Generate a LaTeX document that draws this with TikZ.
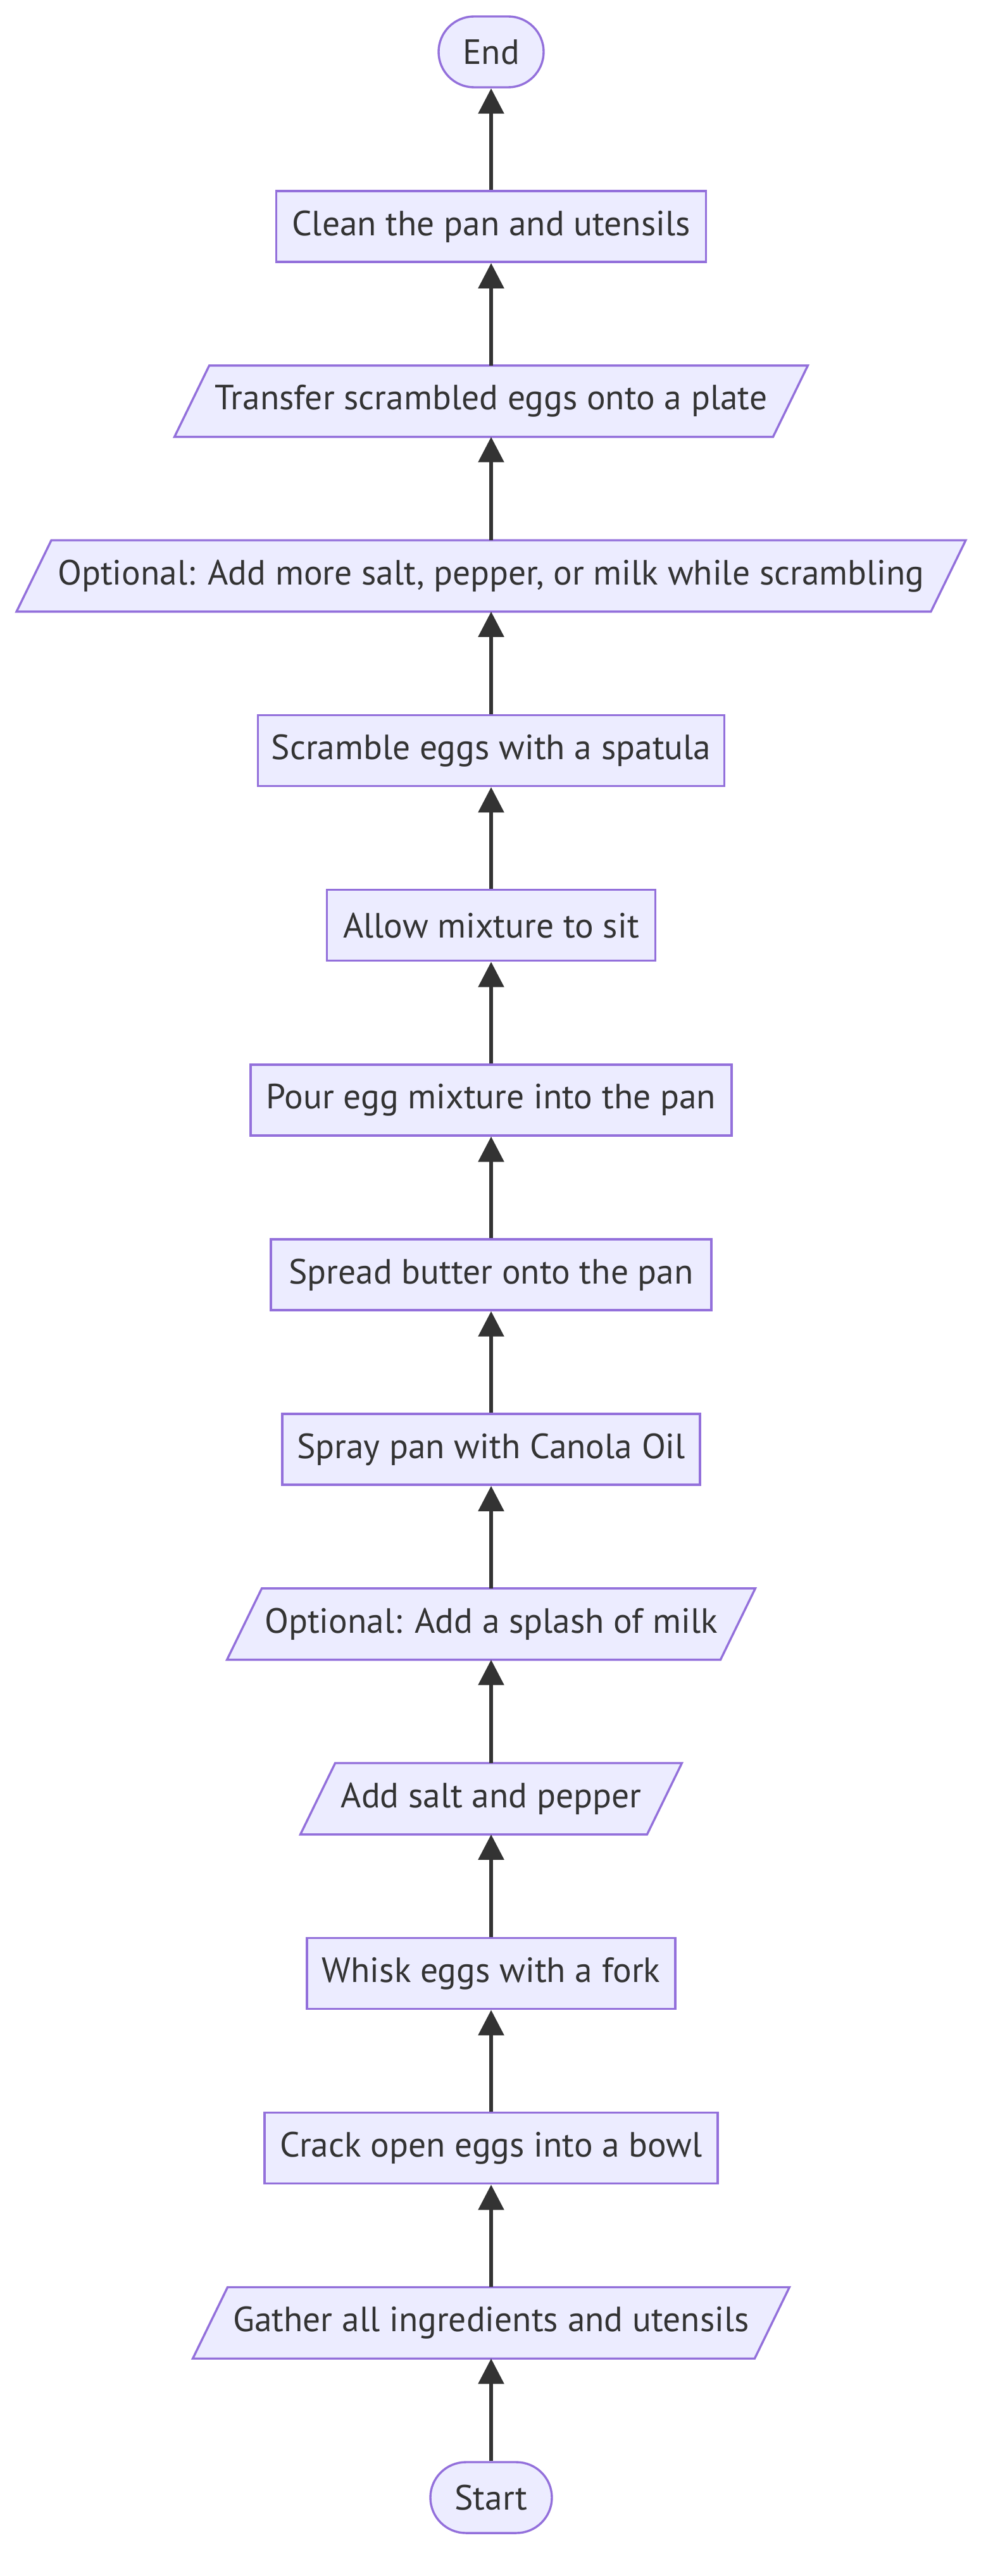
\documentclass[tikz,border=0pt]{standalone}
\usepackage{fontspec}
\setmainfont{PT Sans}
\usetikzlibrary{arrows.meta,backgrounds}
\definecolor{nodefill}{HTML}{ECECFF}
\definecolor{nodeline}{HTML}{9370DB}
\definecolor{edgecol}{HTML}{333333}
\tikzset{
 base/.style={font=\fontsize{27.7}{33}\selectfont, text=edgecol, minimum height=56pt, inner sep=0pt, align=center},
 stepbox/.style={base, draw=nodeline, fill=nodefill, line width=1.7pt, rectangle},
 terminal/.style={base, draw=nodeline, fill=nodefill, line width=1.7pt, rounded corners=28pt},
 parabox/.style={base},
 parashape/.style={draw=nodeline, fill=nodefill, line width=1.7pt, line join=miter},
 flow/.style={draw=edgecol, line width=2.8pt, -{Triangle[length=20pt,width=20pt]}},
}
\newcommand\paranode[4]{%
 \node[parabox, minimum width=#3] (#1) at (388pt,#2) {#4};
 \begin{scope}[on background layer]
 \draw[parashape] ([xshift=-13.75pt]#1.south west) -- ([xshift=-13.75pt]#1.south east) -- ([xshift=13.75pt]#1.north east) -- ([xshift=13.75pt]#1.north west) -- cycle;
 \end{scope}}
\begin{document}
\begin{tikzpicture}
\useasboundingbox (0,0) rectangle (784pt,-2036pt);
\node[terminal, minimum width=83pt] (end) at (388pt,-41pt) {End};
\node[stepbox, minimum width=339.5pt] (clean) at (388pt,-179.07pt) {Clean the pan and utensils};
\paranode{transfer}{-317.14pt}{472.5pt}{Transfer scrambled eggs onto a plate}
\paranode{optmore}{-455.21pt}{722pt}{Optional: Add more salt, pepper, or milk while scrambling}
\node[stepbox, minimum width=368.5pt] (scramble) at (388pt,-593.28pt) {Scramble eggs with a spatula};
\node[stepbox, minimum width=259.6pt] (allow) at (388pt,-731.35pt) {Allow mixture to sit};
\node[stepbox, minimum width=380pt] (pour) at (388pt,-869.42pt) {Pour egg mixture into the pan};
\node[stepbox, minimum width=348pt] (spread) at (388pt,-1007.49pt) {Spread butter onto the pan};
\node[stepbox, minimum width=330pt] (spray) at (388pt,-1145.56pt) {Spray pan with Canola Oil};
\paranode{optmilk}{-1283.63pt}{389.5pt}{Optional: Add a splash of milk}
\paranode{salt}{-1421.7pt}{273.5pt}{Add salt and pepper}
\node[stepbox, minimum width=291pt] (whisk) at (388pt,-1559.77pt) {Whisk eggs with a fork};
\node[stepbox, minimum width=358pt] (crack) at (388pt,-1697.84pt) {Crack open eggs into a bowl};
\paranode{gather}{-1835.91pt}{443.5pt}{Gather all ingredients and utensils}
\node[terminal, minimum width=96pt] (start) at (388pt,-1974pt) {Start};
\draw[flow] (start) -- (gather);
\draw[flow] (gather) -- (crack);
\draw[flow] (crack) -- (whisk);
\draw[flow] (whisk) -- (salt);
\draw[flow] (salt) -- (optmilk);
\draw[flow] (optmilk) -- (spray);
\draw[flow] (spray) -- (spread);
\draw[flow] (spread) -- (pour);
\draw[flow] (pour) -- (allow);
\draw[flow] (allow) -- (scramble);
\draw[flow] (scramble) -- (optmore);
\draw[flow] (optmore) -- (transfer);
\draw[flow] (transfer) -- (clean);
\draw[flow] (clean) -- (end);
\end{tikzpicture}
\end{document}
